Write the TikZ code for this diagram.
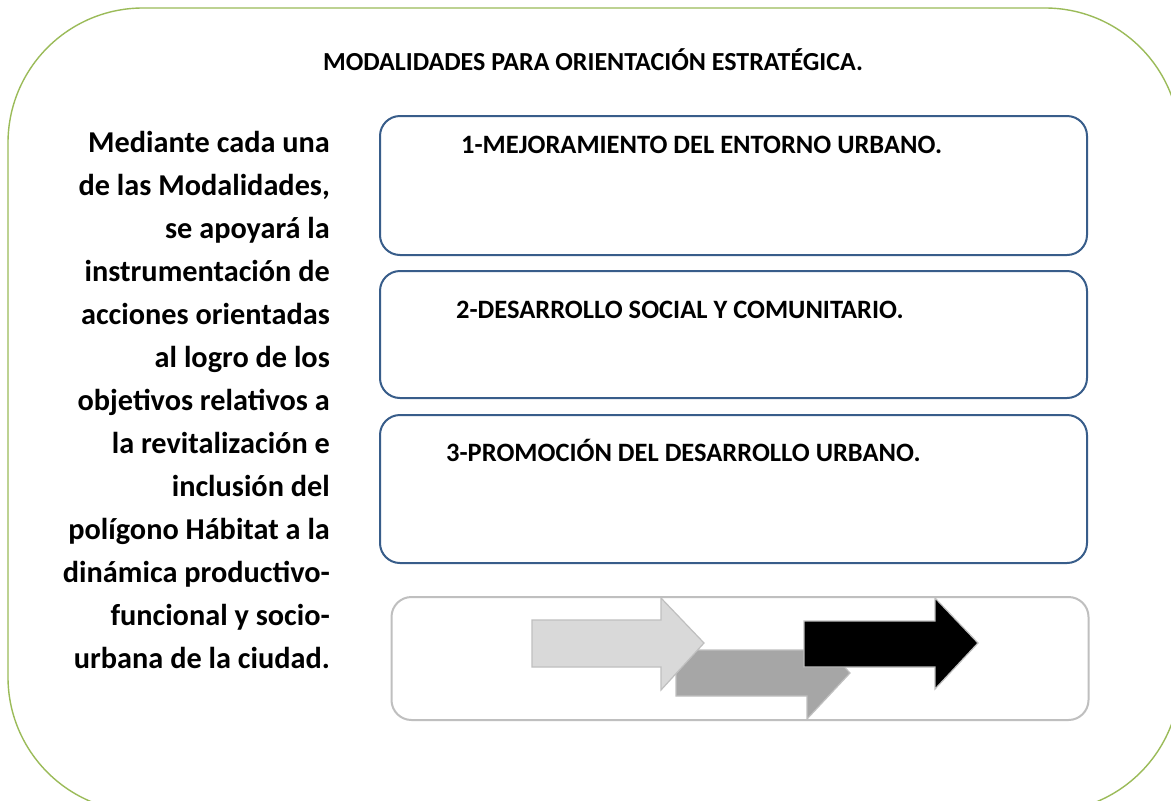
\documentclass[tikz,border=0pt]{standalone}
\usepackage{fontspec}
\setmainfont{Carlito}
\definecolor{framegreen}{RGB}{155,187,89}
\definecolor{boxblue}{RGB}{56,93,138}
\definecolor{boxgray}{RGB}{191,191,191}
\definecolor{arrlight}{RGB}{217,217,217}
\definecolor{arrmid}{RGB}{166,166,166}
\tikzset{
  modbox/.style={draw=boxblue, line width=2pt, rounded corners=20pt, fill=white, inner sep=0pt},
  flowbox/.style={draw=boxgray, line width=2pt, rounded corners=20pt, inner sep=0pt},
  boxtext/.style={anchor=west, inner sep=0pt, font=\fontsize{26.5}{30}\selectfont\bfseries},
  fatarrow/.style={draw=boxgray, line width=1.2pt, line join=miter},
}
\begin{document}
\begin{tikzpicture}[x=1pt,y=-1pt]
\useasboundingbox (0,0) rectangle (1171,801);
\clip (0,0) rectangle (1171,801);
\fill[white] (0,0) rectangle (1171,801);
% outer frame
\draw[framegreen, line width=1.4pt, rounded corners=135pt] (8,8) rectangle (1180,812);
% title
\node[inner sep=0pt, font=\fontsize{26}{30}\selectfont\bfseries] (title) at (593,60) {MODALIDADES PARA ORIENTACIÓN ESTRATÉGICA.};
% left text
\node[anchor=north east, inner sep=0pt, align=right, font=\fontsize{30.3}{43}\selectfont\bfseries] (desc) at (330,131)
{Mediante cada una\\de las Modalidades,\\se apoyará la\\instrumentación de\\acciones orientadas\\al logro de los\\objetivos relativos a\\la revitalización e\\inclusión del\\polígono Hábitat a la\\dinámica productivo-\\funcional y socio-\\urbana de la ciudad.};
% modality boxes
\node[modbox, minimum width=707pt, minimum height=139pt] (m1) at (733.5,185.5) {};
\node[modbox, minimum width=707pt, minimum height=127pt] (m2) at (733.5,334.5) {};
\node[modbox, minimum width=707pt, minimum height=148pt] (m3) at (733.5,489) {};
\node[boxtext] (t1) at (461,145) {1-MEJORAMIENTO DEL ENTORNO URBANO.};
\node[boxtext] (t2) at (456,310) {2-DESARROLLO SOCIAL Y COMUNITARIO.};
\node[boxtext] (t3) at (446,450) {3-PROMOCIÓN DEL DESARROLLO URBANO.};
% flow box
\node[flowbox, minimum width=697pt, minimum height=123pt] (flow) at (740,658.5) {};
% arrows
\draw[fatarrow, fill=arrmid] (676,650) -- (807,650) -- (807,627) -- (850,673) -- (807,719) -- (807,696) -- (676,696) -- cycle;
\draw[fatarrow, fill=arrlight] (532,620) -- (661,620) -- (661,598) -- (704,643) -- (661,690) -- (661,667) -- (532,667) -- cycle;
\draw[fatarrow, fill=black] (804,621) -- (935,621) -- (935,598) -- (978,643) -- (935,689) -- (935,667) -- (804,667) -- cycle;
\end{tikzpicture}
\end{document}
